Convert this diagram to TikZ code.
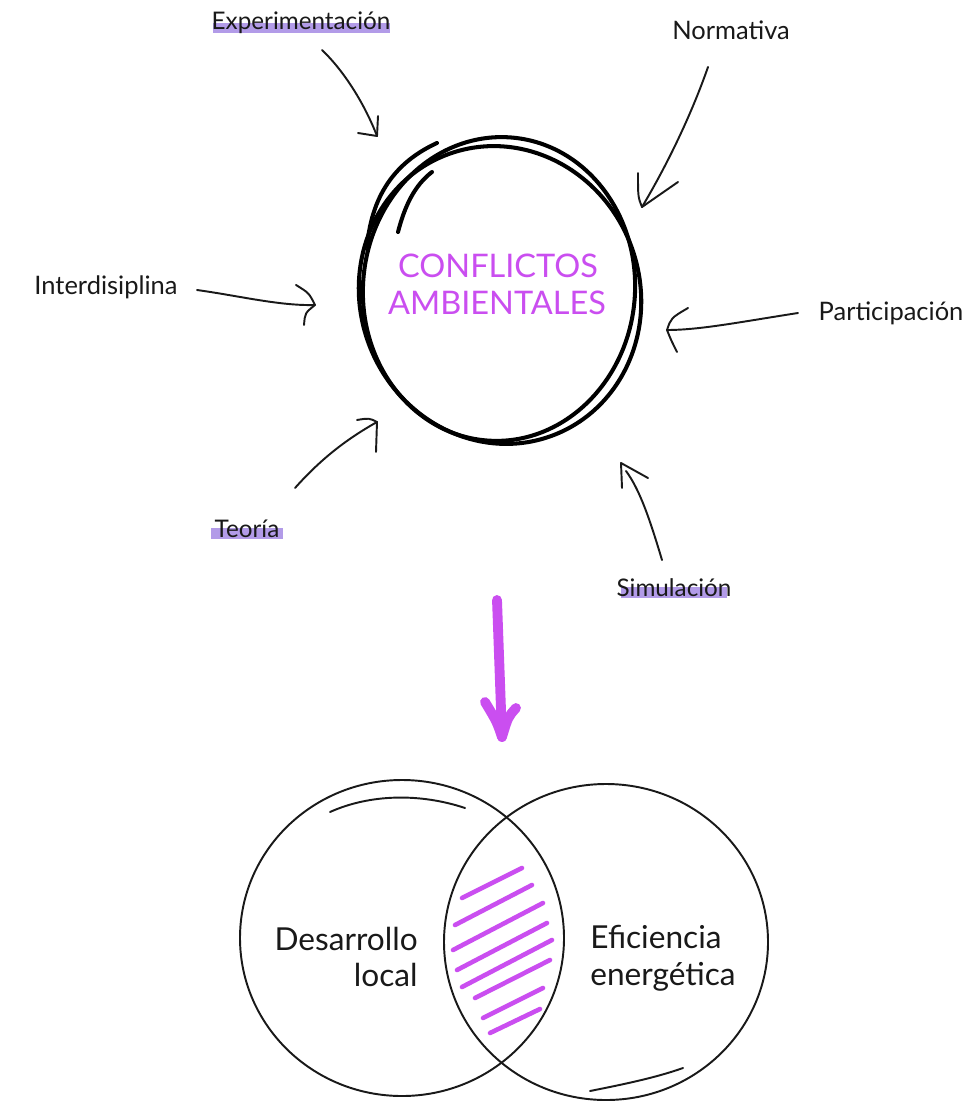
\documentclass[tikz,border=0pt]{standalone}
\usepackage{fontspec}
\setmainfont{Lato}
\usetikzlibrary{positioning}
\definecolor{violeta}{RGB}{202,78,240}
\definecolor{lavanda}{RGB}{178,155,232}
\definecolor{tinta}{RGB}{25,25,25}

\begin{document}
\begin{tikzpicture}[x=0.02cm, y=-0.02cm, every node/.style={inner sep=0pt, text=tinta}, line cap=round, line join=round]
	\tikzset{etiqueta/.style={font=\fontsize{14.5}{16}\selectfont, anchor=base},
		resaltada/.style={font=\fontsize{13.8}{16}\selectfont, anchor=base},
		titulo/.style={font=\fontsize{18.5}{20}\selectfont, text=violeta, anchor=base},
		venn/.style={font=\fontsize{18}{20}\selectfont, anchor=base},
		mano/.style={draw=tinta, line width=1.1pt},
		grueso/.style={draw=black, line width=2.3pt},
		rayado/.style={draw=violeta, line width=2.6pt}}
	\useasboundingbox[fill=white] (0,0) rectangle (965,1101);
	% marcas de resaltado
	\fill[lavanda] (213,23) rectangle (390,33);
	\fill[lavanda] (211,528) rectangle (283,539);
	\fill[lavanda] (621,587) rectangle (727,598);
	% etiquetas
	\node[resaltada] (exp) at (301,30)  {Experimentación};
	\node[etiqueta] (norm) at (731,40)  {Normativa};
	\node[etiqueta] (inter) at (106,295){Interdisiplina};
	\node[etiqueta] (part) at (891,320) {Participación};
	\node[resaltada] (teo) at (247,537) {Teoría};
	\node[resaltada] (sim) at (674,596) {Simulación};
	% circulo central
	\draw[grueso, rotate around={20:(500,295)}] (500,295) ellipse [x radius=140, y radius=150];
	\draw[grueso, rotate around={-5:(499,289)}] (499,289) ellipse [x radius=136, y radius=152];
	\draw[grueso] (367,247) .. controls (372,190) and (400,160) .. (437,143);
	\draw[grueso] (398,232) .. controls (405,205) and (415,185) .. (432,172);
	\node[titulo] (t1) at (498,277) {CONFLICTOS};
	\node[titulo] (t2) at (497,315) {AMBIENTALES};
	% flechas
	\coordinate (exp-a) at (322,50);  \coordinate (exp-b) at (377,136);
	\coordinate (norm-a) at (708,67); \coordinate (norm-b) at (642,207);
	\coordinate (inter-a) at (197,290); \coordinate (inter-b) at (315,305);
	\coordinate (part-a) at (798,313); \coordinate (part-b) at (667,330);
	\coordinate (teo-a) at (295,488); \coordinate (teo-b) at (377,422);
	\coordinate (sim-a) at (662,560); \coordinate (sim-b) at (621,463);
	\draw[mano] (exp-a) .. controls (345,72) and (365,105) .. (exp-b);
	\draw[mano] ([shift={(1,-20)}]exp-b) -- (exp-b) -- ([shift={(-19,-3)}]exp-b);
	\draw[mano] (norm-a) .. controls (693,110) and (670,160) .. (norm-b);
	\draw[mano] ([shift={(-4,-34)}]norm-b) .. controls ([shift={(-4,-10)}]norm-b) .. (norm-b) -- ([shift={(36,-25)}]norm-b);
	\draw[mano] (inter-a) .. controls (240,296) and (280,306) .. (inter-b);
	\draw[mano] ([shift={(-19,-20)}]inter-b) .. controls ([shift={(-6,-12)}]inter-b) .. (inter-b) .. controls ([shift={(-10,8)}]inter-b) .. ([shift={(-11,20)}]inter-b);
	\draw[mano] (part-a) .. controls (740,322) and (700,330) .. (part-b);
	\draw[mano] ([shift={(21,-22)}]part-b) .. controls ([shift={(4,-12)}]part-b) .. (part-b) .. controls ([shift={(4,10)}]part-b) .. ([shift={(10,22)}]part-b);
	\draw[mano] (teo-a) .. controls (320,460) and (345,440) .. (teo-b);
	\draw[mano] ([shift={(-20,-2)}]teo-b) .. controls ([shift={(-8,-4)}]teo-b) .. (teo-b) -- ([shift={(-1,30)}]teo-b);
	\draw[mano] (sim-a) .. controls (650,520) and (640,490) .. ([shift={(5,8)}]sim-b);
	\draw[mano] ([shift={(1,25)}]sim-b) -- (sim-b) -- ([shift={(27,15)}]sim-b);
	% flecha violeta
	\coordinate (baja-a) at (497,600); \coordinate (baja-b) at (502,737);
	\draw[violeta, line width=5.6pt] (baja-a) -- (baja-b);
	\draw[violeta, line width=5.6pt] ([shift={(-17,-35)}]baja-b) .. controls ([shift={(-5,-15)}]baja-b) .. (baja-b) .. controls ([shift={(6,-20)}]baja-b) .. ([shift={(14,-29)}]baja-b);
	% diagrama de venn
	\foreach \xa/\ya/\xb/\yb in {462/898/522/868, 455/925/532/885, 453/950/543/903, 457/970/547/923,
		462/987/552/940, 475/998/550/960, 483/1018/543/988, 490/1033/540/1009}
	\draw[rayado] (\xa,\ya) -- (\xb,\yb);
	\draw[mano] (402,938) ellipse [x radius=162, y radius=158];
	\draw[mano] (606,942) ellipse [x radius=162, y radius=158];
	\draw[mano] (330,812) .. controls (370,794) and (420,793) .. (465,808);
	\draw[mano] (590,1091) .. controls (620,1085) and (655,1078) .. (683,1068);
	\node[venn, anchor=base east] (des) at (418,950) {Desarrollo};
	\node[venn, anchor=base east] (loc) at (418,986) {local};
	\node[venn, anchor=base west] (efi) at (590,948) {Eficiencia};
	\node[venn, anchor=base west] (ene) at (590,985) {energética};
\end{tikzpicture}
\end{document}
